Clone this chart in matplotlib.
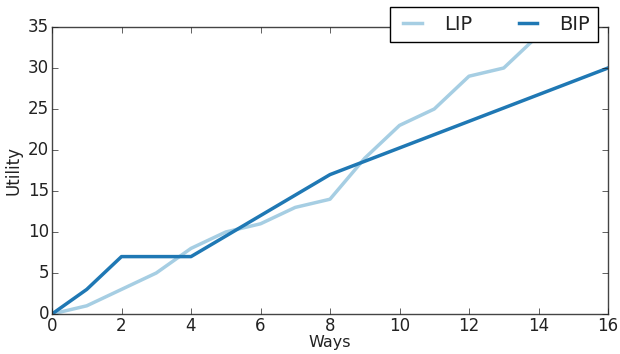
import matplotlib
matplotlib.use("Agg")
import matplotlib.pyplot as plt

ways = list(range(17))
lip = [0, 1, 3, 5, 8, 10, 11, 13, 14, 19, 23, 25, 29, 30, 34, 38, 42]
bip = [0, 3, 7, 7, 7, 9.5, 12, 14.5, 17, 18.625, 20.25, 21.875, 23.5, 25.125, 26.75, 28.375, 30]

plt.style.use("classic")
text_color = "#222222"
plt.rcParams.update({
    "text.color": text_color,
    "axes.labelcolor": text_color,
    "xtick.color": text_color,
    "ytick.color": text_color,
})

fig = plt.figure(figsize=(6.2, 3.54), dpi=100, facecolor="white")
ax = fig.add_axes([52 / 620, 1 - 314 / 354, (608 - 52) / 620, (314 - 27) / 354])

ax.plot(ways, lip, color="#a6cee3", lw=2.5, label="LIP")
ax.plot(ways, bip, color="#1f78b4", lw=2.5, label="BIP")

ax.set_xlim(0, 16)
ax.set_ylim(0, 35)
ax.set_xticks(range(0, 17, 2))
ax.set_yticks(range(0, 36, 5))
ax.tick_params(labelsize=12, pad=2)
for sp in ax.spines.values():
    sp.set_edgecolor("#444444")
ax.set_xlabel("Ways", fontsize=11.5, labelpad=0)
ax.set_ylabel("Utility", fontsize=12, labelpad=4)

leg = ax.legend(loc="upper right", ncol=2, fontsize=14,
                bbox_to_anchor=(0.982, 1.068), borderaxespad=0,
                handlelength=1.55, handletextpad=0.85, columnspacing=2.1,
                borderpad=0.4)
leg.get_frame().set_linewidth(1.0)

fig.savefig("out.png", dpi=100, facecolor="white")
